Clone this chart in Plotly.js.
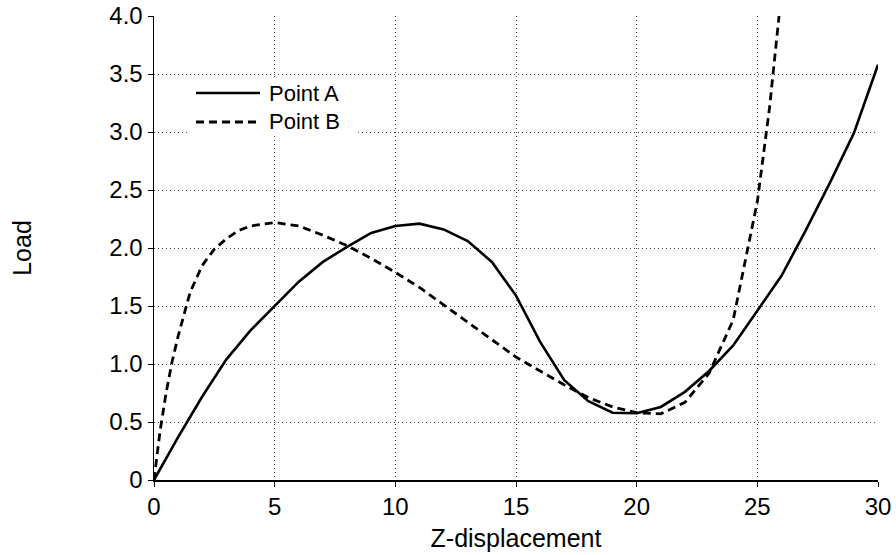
<!DOCTYPE html>
<html>
<head>
<meta charset="utf-8">
<script src="https://cdn.plot.ly/plotly-3.0.1.min.js"></script>
<style>html,body{margin:0;padding:0;background:#fff;}#chart{width:896px;height:555px;}</style>
</head>
<body>
<div id="chart"></div>
<script>
// Point A (solid)
const pointAX = [0, 1, 2, 3, 4, 5, 6, 7, 8, 9, 10, 11, 12, 13, 14, 15, 16, 17, 18, 19, 20, 21, 22, 23, 24, 25, 26, 27, 28, 29, 30];
const pointAY = [0, 0.37, 0.72, 1.04, 1.29, 1.50, 1.71, 1.88, 2.01, 2.13, 2.19, 2.21, 2.16, 2.06, 1.88, 1.59, 1.19, 0.86, 0.68, 0.58, 0.575, 0.63, 0.76, 0.94, 1.16, 1.46, 1.76, 2.15, 2.56, 2.99, 3.58];
// Point B (dashed)
const pointBX = [0, 0.25, 0.5, 0.75, 1, 1.5, 2, 2.5, 3, 3.5, 4, 5, 6, 7, 8, 9, 10, 11, 12, 13, 14, 15, 16, 17, 18, 19, 20, 21, 22, 23, 24, 25, 25.5, 26];
const pointBY = [0, 0.42, 0.75, 1.02, 1.24, 1.62, 1.85, 1.99, 2.08, 2.15, 2.19, 2.22, 2.19, 2.11, 2.02, 1.91, 1.79, 1.66, 1.51, 1.36, 1.21, 1.06, 0.94, 0.82, 0.71, 0.63, 0.58, 0.57, 0.67, 0.92, 1.38, 2.40, 3.20, 4.20];
const seriesNames = ["Point A", "Point B"];
const xTickVals = [0, 5, 10, 15, 20, 25, 30];
const xTickText = ["0", "5", "10", "15", "20", "25", "30"];
const yTickVals = [0, 0.5, 1.0, 1.5, 2.0, 2.5, 3.0, 3.5, 4.0];
const yTickText = ["0", "0.5", "1.0", "1.5", "2.0", "2.5", "3.0", "3.5", "4.0"];

const font = "Liberation Sans, Arial, sans-serif";
const styles = [
  {color: "#000", width: 2.6, dash: "solid"},
  {color: "#000", width: 2.8, dash: "8px,5px"}
];
const traces = [
  {x: pointAX, y: pointAY, name: seriesNames[0], mode: "lines", type: "scatter", line: styles[0], showlegend: false},
  {x: pointBX, y: pointBY, name: seriesNames[1], mode: "lines", type: "scatter", line: styles[1], showlegend: false}
];

// legend drawn as a box of paper-coordinate shapes + text
const legX0 = 0.058, legX1 = 0.1464, legTextX = 0.1575;
const legRowY = [0.834, 0.7716];
const shapes = [
  {type: "rect", xref: "paper", yref: "paper", x0: 0.047, x1: 0.282, y0: 0.741, y1: 0.866,
   fillcolor: "#fff", line: {width: 0}, layer: "above"}
];
const annotations = [];
seriesNames.forEach((n, i) => {
  shapes.push({type: "line", xref: "paper", yref: "paper", x0: legX0, x1: legX1, y0: legRowY[i], y1: legRowY[i],
               line: {color: styles[i].color, width: styles[i].width, dash: styles[i].dash}, layer: "above"});
  annotations.push({xref: "paper", yref: "paper", x: legTextX, y: legRowY[i], xanchor: "left", yanchor: "middle",
                    text: n, showarrow: false, borderpad: 0, font: {family: font, size: 22, color: "#000"}});
});

const layout = {
  width: 896, height: 555,
  margin: {l: 154, r: 18, t: 16, b: 75},
  paper_bgcolor: "#fff", plot_bgcolor: "#fff",
  font: {family: font, size: 24, color: "#000"},
  showlegend: false,
  shapes: shapes,
  annotations: annotations,
  xaxis: {
    range: [0, 30], tickvals: xTickVals, ticktext: xTickText,
    showline: true, linecolor: "#000", linewidth: 1.5,
    ticks: "outside", ticklen: 5, tickcolor: "#000", tickwidth: 1,
    showgrid: true, gridcolor: "#444", gridwidth: 1, griddash: "1px,3px",
    zeroline: false, automargin: false,
    tickfont: {family: font, size: 24, color: "#000"},
    title: {text: "Z-displacement", font: {family: font, size: 25, color: "#000"}, standoff: 10}
  },
  yaxis: {
    range: [0, 4], tickvals: yTickVals, ticktext: yTickText,
    showline: true, linecolor: "#000", linewidth: 1.5,
    ticks: "outside", ticklen: 5, tickcolor: "#000", tickwidth: 1,
    showgrid: true, gridcolor: "#444", gridwidth: 1, griddash: "1px,3px",
    zeroline: false, automargin: false,
    tickfont: {family: font, size: 24, color: "#000"},
    title: {text: "Load", font: {family: font, size: 25, color: "#000"}, standoff: 70}
  }
};
Plotly.newPlot("chart", traces, layout, {staticPlot: true, displayModeBar: false});
</script>
</body>
</html>
